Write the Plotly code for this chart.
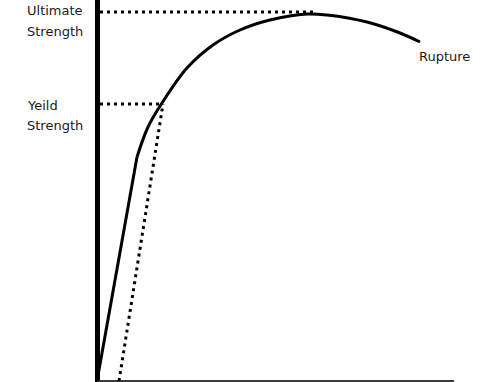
import plotly.graph_objects as go

# Stress-strain curve (x: strain units, y: stress units)
elastic_x = [0, 40]
elastic_y = [0, 224]
plastic_x = [40, 51, 65, 90, 116, 143, 173, 210, 230, 270, 303, 323]
plastic_y = [224, 254, 278, 313, 336, 351, 361, 367, 366, 359, 348, 339]

# Offset (0.2%) line and guide lines
offset_x = [22, 66]
offset_y = [0, 277]
yield_x = [3, 66]
yield_y = [277, 277]
ult_x = [3, 216]
ult_y = [369, 369]
axis_x = [0, 357]
axis_y = [0, 0]

labels = ["Ultimate", "Strength", "Yeild", "Strength", "Rupture"]
label_x = [-72, -72, -72, -72, 320]
label_y = [371, 350, 276, 256, 325]

fig = go.Figure()
line_black = dict(color="black", width=3)
fig.add_trace(go.Scatter(x=axis_x, y=axis_y, mode="lines",
                         line=dict(color="#3a3a3a", width=2), hoverinfo="skip"))
fig.add_trace(go.Scatter(x=elastic_x, y=elastic_y, mode="lines", line=line_black, hoverinfo="skip"))
fig.add_trace(go.Scatter(x=plastic_x, y=plastic_y, mode="lines",
                         line=dict(color="black", width=3, shape="spline", smoothing=1.0), hoverinfo="skip"))
dot = dict(color="black", width=3, dash="3px,4px")
fig.add_trace(go.Scatter(x=offset_x, y=offset_y, mode="lines", line=dot, hoverinfo="skip"))
fig.add_trace(go.Scatter(x=yield_x, y=yield_y, mode="lines", line=dot, hoverinfo="skip"))
fig.add_trace(go.Scatter(x=ult_x, y=ult_y, mode="lines", line=dot, hoverinfo="skip"))

for t, x, y in zip(labels, label_x, label_y):
    fig.add_annotation(x=x, y=y, text=t, showarrow=False, xanchor="left", yanchor="middle",
                       font=dict(family="DejaVu Sans", size=13, color="#1a1a1a"))

fig.update_layout(
    width=493, height=382,
    margin=dict(l=0, r=0, t=0, b=0),
    paper_bgcolor="white", plot_bgcolor="white",
    showlegend=False,
    xaxis=dict(range=[-97, 396], showgrid=False, showticklabels=False, ticks="",
               zeroline=True, zerolinecolor="black", zerolinewidth=5, fixedrange=True),
    yaxis=dict(range=[-1, 381], showgrid=False, showticklabels=False, ticks="",
               zeroline=False, fixedrange=True),
)

fig.write_html("out.html", config={"displayModeBar": False},
               post_script="document.body.style.margin='0';document.body.style.overflow='hidden';")
